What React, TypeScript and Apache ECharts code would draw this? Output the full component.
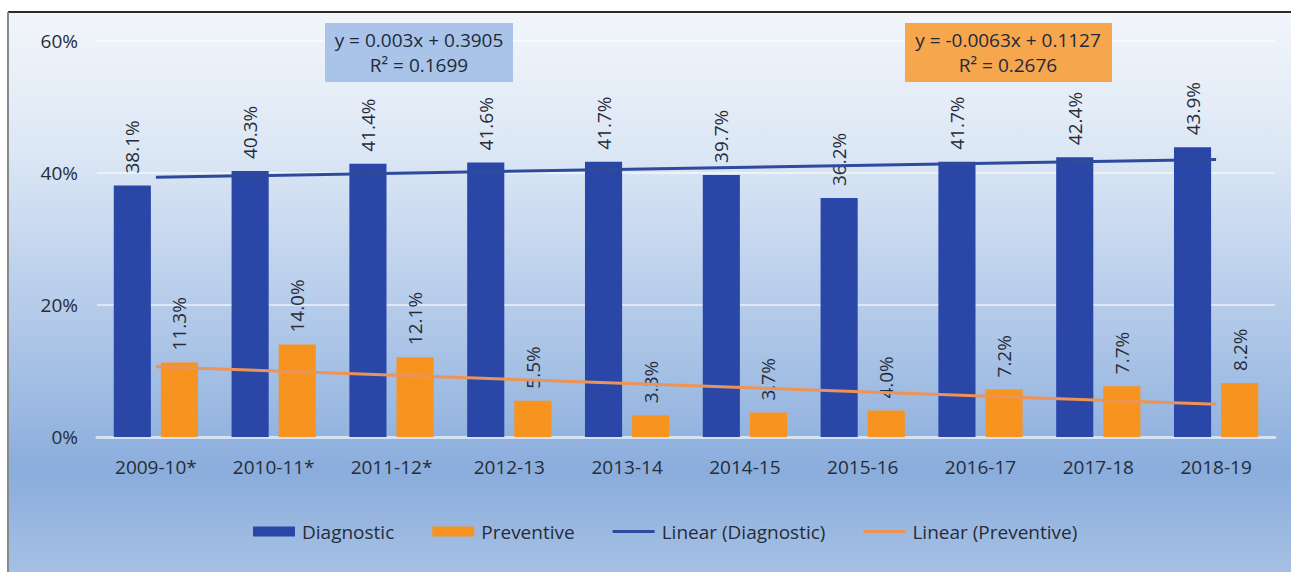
import React, { useEffect, useRef } from "react";
import * as echarts from "echarts";

const categories = ["2009-10*", "2010-11*", "2011-12*", "2012-13", "2013-14", "2014-15", "2015-16", "2016-17", "2017-18", "2018-19"];
const diagnostic = [38.1, 40.3, 41.4, 41.6, 41.7, 39.7, 36.2, 41.7, 42.4, 43.9];
const preventive = [11.3, 14.0, 12.1, 5.5, 3.3, 3.7, 4.0, 7.2, 7.7, 8.2];
// trend line end points (first and last category), as drawn
const diagTrend = [39.35, 42.05];
const prevTrend = [10.64, 4.97];
const yTicks = [0, 20, 40, 60];
const diagEquation = ["y = 0.003x + 0.3905", "R² = 0.1699"];
const prevEquation = ["y = -0.0063x + 0.1127", "R² = 0.2676"];

const FONT = "'Open Sans', 'Noto Sans', sans-serif";
const TEXT = "#262c38";
const LINE_ICON = "path://M0,0 L42,0 L42,3 L0,3 Z";

export default function App() {
  const ref = useRef<HTMLDivElement>(null);
  useEffect(() => {
    if (!ref.current) return;
    const chart = echarts.init(ref.current, null, { renderer: "svg" });
    const last = categories.length - 1;
    const barLabel = {
      show: true,
      position: "top",
      rotate: 90,
      align: "left",
      verticalAlign: "middle",
      distance: 12,
      formatter: (p: any) => p.value.toFixed(1) + "%",
      color: TEXT,
      fontSize: 19,
      fontFamily: FONT,
    };
    chart.setOption({
      animation: false,
      textStyle: { fontFamily: FONT },
      graphic: [
        {
          type: "rect",
          z: -100,
          silent: true,
          shape: { x: 8, y: 12, width: 1283, height: 560 },
          style: {
            fill: new echarts.graphic.LinearGradient(0, 0, 0, 1, [
              { offset: 0, color: "#f2f6fb" },
              { offset: 0.25, color: "#dce7f5" },
              { offset: 0.55, color: "#b2c9e9" },
              { offset: 0.82, color: "#8aaddc" },
              { offset: 1, color: "#a6c0e4" },
            ]),
          },
        },
        { type: "line", z: 100, shape: { x1: 8, y1: 12, x2: 1291, y2: 12 }, style: { stroke: "#2b2b2b", lineWidth: 2 } },
        { type: "line", z: 100, shape: { x1: 8, y1: 12, x2: 8, y2: 572 }, style: { stroke: "#8a8a8a", lineWidth: 2 } },
        {
          type: "rect",
          z: 100,
          shape: { x: 325, y: 23, width: 188, height: 59 },
          style: { fill: "#a9c4e8" },
        },
        {
          type: "text",
          z: 101,
          x: 419,
          y: 52,
          style: {
            text: diagEquation.join("\n"),
            fill: "#1e2a3c",
            font: `19px ${FONT}`,
            align: "center",
            verticalAlign: "middle",
            lineHeight: 25,
          },
        },
        {
          type: "rect",
          z: 100,
          shape: { x: 905, y: 23, width: 207, height: 59 },
          style: { fill: "#f6a64c" },
        },
        {
          type: "text",
          z: 101,
          x: 1008,
          y: 52,
          style: {
            text: prevEquation.join("\n"),
            fill: "#1e2a3c",
            font: `19px ${FONT}`,
            align: "center",
            verticalAlign: "middle",
            lineHeight: 25,
          },
        },
      ],
      grid: { left: 97, right: 16, top: 41, bottom: 135, containLabel: false },
      legend: {
        left: 248,
        top: 517,
        padding: 5,
        itemWidth: 42,
        itemHeight: 10,
        itemGap: 38,
        textStyle: { fontSize: 19, color: TEXT, fontFamily: FONT, padding: [0, 0, 0, 2] },
        data: [
          { name: "Diagnostic", icon: "rect" },
          { name: "Preventive", icon: "rect" },
          { name: "Linear (Diagnostic)", icon: LINE_ICON },
          { name: "Linear (Preventive)", icon: LINE_ICON },
        ],
      },
      xAxis: {
        type: "category",
        data: categories,
        axisTick: { show: false },
        axisLine: { show: true, lineStyle: { color: "#d3e1f2", width: 3 } },
        axisLabel: { color: TEXT, fontSize: 19, margin: 20, fontFamily: FONT },
      },
      yAxis: {
        type: "value",
        min: yTicks[0],
        max: yTicks[yTicks.length - 1],
        interval: 20,
        axisLine: { show: false },
        axisTick: { show: false },
        axisLabel: { color: TEXT, fontSize: 19, margin: 19, formatter: "{value}%", fontFamily: FONT },
        splitLine: { lineStyle: { color: "rgba(255,255,255,0.55)", width: 2 } },
      },
      series: [
        {
          name: "Diagnostic",
          type: "bar",
          data: diagnostic,
          barWidth: "31.5%",
          barGap: "27%",
          itemStyle: { color: "#2a47a8" },
          label: barLabel,
        },
        {
          name: "Preventive",
          type: "bar",
          data: preventive,
          barWidth: "31.5%",
          itemStyle: { color: "#f7941f" },
          label: barLabel,
        },
        {
          name: "Linear (Diagnostic)",
          type: "line",
          data: [[0, diagTrend[0]], [last, diagTrend[1]]],
          symbol: "none",
          z: 5,
          lineStyle: { color: "#2d4a9c", width: 3 },
          itemStyle: { color: "#2d4a9c" },
        },
        {
          name: "Linear (Preventive)",
          type: "line",
          data: [[0, prevTrend[0]], [last, prevTrend[1]]],
          symbol: "none",
          z: 5,
          lineStyle: { color: "#ec9357", width: 3 },
          itemStyle: { color: "#ec9357" },
        },
      ],
    });
    return () => chart.dispose();
  }, []);
  return <div ref={ref} style={{ position: "absolute", left: 0, top: 0, width: 1291, height: 572 }} />;
}
